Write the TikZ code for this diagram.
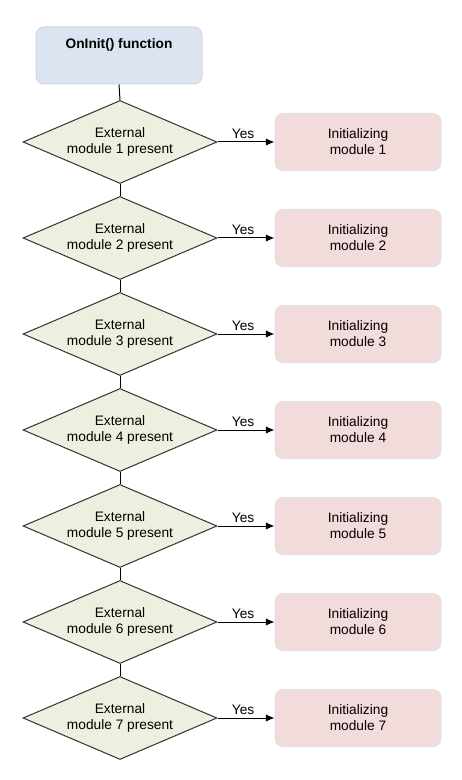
\documentclass[tikz,border=0pt]{standalone}
\usepackage{fontspec}
\setmainfont{Liberation Sans}
\usetikzlibrary{shapes.geometric,arrows.meta}
\definecolor{bluefill}{HTML}{DBE4F0}
\definecolor{blueline}{HTML}{D0D8E2}
\definecolor{greenfill}{HTML}{EBF1DE}
\definecolor{pinkfill}{HTML}{F2DCDB}
\definecolor{pinkline}{HTML}{E2E2E2}
\definecolor{edgegray}{HTML}{333333}
\tikzset{
  topbox/.style={draw=blueline, fill=bluefill, rounded corners=6pt, line width=0.75pt,
    minimum width=124.5pt, minimum height=42.75pt, inner sep=0pt},
  decision/.style={diamond, draw=edgegray, fill=greenfill, line width=0.75pt,
    minimum width=145.5pt, minimum height=62.25pt, inner sep=0pt, align=center, aspect=2.34},
  initbox/.style={draw=pinkline, fill=pinkfill, rounded corners=6pt, line width=0.75pt,
    minimum width=124.5pt, minimum height=42.75pt, inner sep=0pt, align=center},
  link/.style={draw=black, line width=0.75pt},
  yesarrow/.style={link, -{Latex[length=6.5pt,width=5.5pt]}},
  yeslbl/.style={above, inner sep=2pt, pos=0.45}
}
\begin{document}
\begin{tikzpicture}[x=0.75pt,y=-0.75pt,font=\fontsize{10.3}{12}\selectfont]
\useasboundingbox (0,0) rectangle (461,780);
\node[topbox, label={[font=\fontsize{10.3}{12}\selectfont\bfseries, anchor=center, yshift=-13.5pt]north:OnInit() function}] (start) at (119,55.5) {};
\foreach \i in {1,...,7} {
  \pgfmathsetmacro{\cy}{142+96*(\i-1)}
  \node[decision] (d\i) at (120,\cy) {External\\module \i\ present};
  \node[initbox] (m\i) at (358,\cy) {Initializing\\module \i};
  \draw[yesarrow] (d\i.east) -- node[yeslbl] {Yes} (m\i.west |- d\i.east);
}
\draw[link] (start.south) -- (d1.north);
\foreach \i [evaluate=\i as \j using int(\i+1)] in {1,...,6} {
  \draw[link] (d\i.south) -- (d\j.north);
}
\end{tikzpicture}
\end{document}
